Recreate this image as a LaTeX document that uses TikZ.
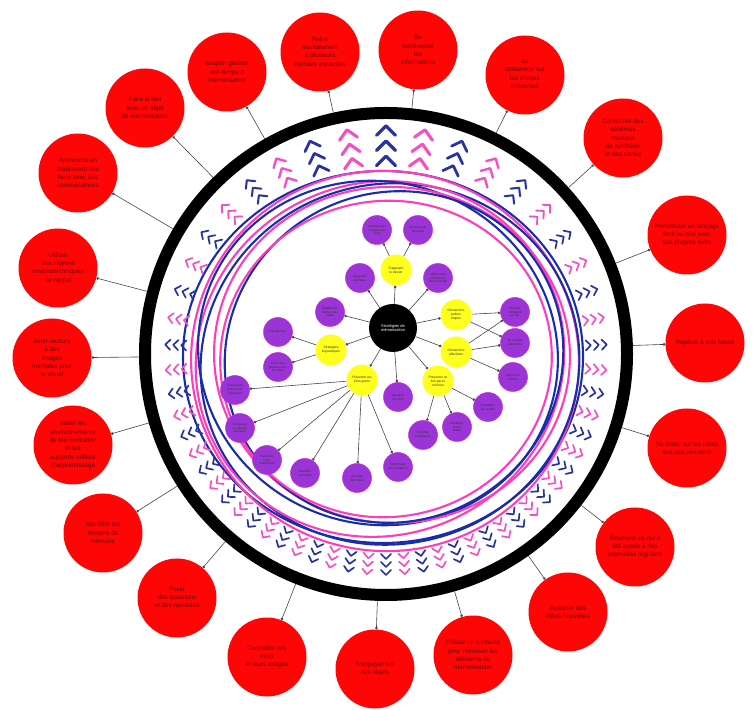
\documentclass[tikz,border=0pt]{standalone}
\usepackage{fontspec}
\setmainfont{Liberation Sans}
\usetikzlibrary{arrows.meta}
\definecolor{redbub}{RGB}{255,6,6}
\definecolor{redtext}{RGB}{110,5,5}
\definecolor{purp}{RGB}{155,52,214}
\definecolor{purpedge}{RGB}{200,40,210}
\definecolor{yell}{RGB}{255,255,30}
\definecolor{linkgray}{RGB}{70,70,70}
\definecolor{chevblue}{RGB}{40,50,160}
\definecolor{chevpink}{RGB}{245,80,195}
\definecolor{swirlblue}{RGB}{25,45,170}
\definecolor{swirlpink}{RGB}{255,60,185}
\begin{document}
\begin{tikzpicture}[
    x=1pt, y=1pt,
    bubble/.style={circle, fill=redbub, minimum size=79pt, inner sep=0pt, align=center, text=redtext, font=\fontsize{6.3}{8.3}\selectfont},
    idea/.style={circle, draw=purpedge, line width=0.5pt, fill=purp, minimum size=29pt, inner sep=0pt, align=center, text=black!80, font=\fontsize{3.1}{3.8}\selectfont},
    hub/.style={circle, fill=yell, minimum size=31pt, inner sep=0pt, align=center, text=black!80, font=\fontsize{3.3}{4}\selectfont},
    link/.style={draw=linkgray, line width=0.6pt, -{Circle[length=2.6pt]}},
    chev/.style={line cap=round, line join=round},
    swb/.style={draw=swirlblue, line width=2.1pt},
    swp/.style={draw=swirlpink, line width=2.1pt},
  ]
  \useasboundingbox (0,0) rectangle (754,709);
  \coordinate (O) at (386,355);

  % swirl of loops
  \draw[swb] (383,352) ellipse [x radius=200, y radius=186];
  \draw[swp, rotate around={-10:(385,348)}] (385,348) ellipse [x radius=194, y radius=190];
  \draw[swb, rotate around={15:(390,345)}] (390,345) ellipse [x radius=190, y radius=180];
  \draw[swp, rotate around={25:(380,350)}] (380,350) ellipse [x radius=186, y radius=176];
  \draw[swb, rotate around={-20:(378,356)}] (378,356) ellipse [x radius=181, y radius=171];
  \draw[swp, rotate around={-5:(392,354)}] (392,354) ellipse [x radius=178, y radius=168];
  \draw[swb, rotate around={30:(394,352)}] (394,352) ellipse [x radius=171, y radius=164];
  \draw[swp, rotate around={10:(386,350)}] (386,350) ellipse [x radius=166, y radius=158];

  % chevrons
  \foreach \k in {0,...,55}{
    \pgfmathsetmacro\t{\k*6.4286+90}
    \pgfmathsetmacro\a{\t+22*sin(\t-90)+4.4*sin(2*(\t-90))}
    \pgfmathsetmacro\q{max(0,sin(\a))}
    \pgfmathsetmacro\s{1+0.9*\q*\q*\q*\q*\q*\q}
    \pgfmathsetmacro\w{5*\s}
    \ifodd\k \def\col{chevpink}\else\def\col{chevblue}\fi
    \begin{scope}[shift={(O)}, rotate=\a-90]
      \foreach \d in {0,1,2}{
        \pgfmathsetmacro\tip{213+(\d-1)*8*\s}
        \pgfmathsetmacro\arm{\tip-\w}
        \draw[chev, draw=\col, line width={1.7pt*\s}]
          (-\w,\arm) -- (0,\tip) -- (\w,\arm);
      }
    \end{scope}
  }

  \node[circle, draw=black, line width=12pt, minimum size=482pt, inner sep=0pt] (ring) at (O) {};

  % outer ring of bubbles
  \node[bubble] (r1) at (145,601) {Faire le lien\\avec un objet\\de mémorisation};
  \node[bubble] (r2) at (227,637) {adapter gestion\\son temps à\\mémorisation};
  \node[bubble] (r3) at (320,657) {Relire\\mentalement\\à plusieurs\\reprises espacées};
  \node[bubble] (r4) at (418,659) {Se\\représenter\\les\\informations};
  \node[bubble] (r5) at (525,634) {se\\concentrer sur\\les choses\\présentes};
  \node[bubble] (r6) at (623,571) {Construire des\\schémas\\mentaux\\de synthèse\\et des cartes};
  \node[bubble] (r7) at (687,474) {Reformuler en langage\\écrit ou oral avec\\ses propres mots};
  \node[bubble] (r8) at (705,366) {Répéter à voix haute};
  \node[bubble] (r9) at (687,261) {Se tester sur les idées\\lors des révisions};
  \node[bubble] (r10) at (635,162) {Réactiver ce qui a\\été appris à des\\intervalles réguliers};
  \node[bubble] (r11) at (568,97) {Associer des\\idées nouvelles};
  \node[bubble] (r12) at (473,54) {Utiliser un contexte\\pour retrouver les\\éléments de\\mémorisation};
  \node[bubble] (r13) at (375,40) {S'appuyer sur\\des objets};
  \node[bubble] (r14) at (267,52) {Connaître des\\mots\\et leurs usages};
  \node[bubble] (r15) at (177,111) {Poser\\des questions\\et des réponses};
  \node[bubble] (r16) at (103,176) {Identifier les\\moyens de\\mémoire};
  \node[bubble] (r17) at (73,264) {Varier les\\environnements\\de mémorisation\\et les\\supports utilisés\\d'apprentissage};
  \node[bubble] (r18) at (52,351) {Avoir recours\\à des\\images\\mentales pour\\le visuel};
  \node[bubble] (r19) at (58,441) {Utiliser\\des moyens\\mnémotechniques\\de rappel};
  \node[bubble] (r20) at (78,536) {Apprendre en\\établissant des\\liens avec ses\\connaissances};
  \foreach \i in {1,...,20}
    \draw[link] (ring) -- (r\i);

  % inner map
  \node[circle, fill=black, text=white, minimum size=48pt, inner sep=0pt, align=center, font=\fontsize{4}{4.8}\selectfont] (root) at (393,381) {Stratégies de\\mémorisation};
  \node[hub] (y1) at (396,439) {S'appuyer\\le dessin};
  \node[hub] (y2) at (456,394) {Démarches\\petites\\étapes};
  \node[hub] (y3) at (456,357) {Démarches\\affectives};
  \node[hub] (y4) at (438,328) {Présenter un\\lien par le\\schéma};
  \node[hub] (y5) at (362,329) {Présenter les\\infos genre};
  \node[hub] (y6) at (331,359) {Stratégies\\linguistiques};

  \node[idea] (p1) at (377,479) {Associer des\\images aux\\mots};
  \node[idea] (p2) at (418,479) {Dessiner les\\concepts};
  \node[idea] (p3) at (360,431) {Organiser\\les idées};
  \node[idea] (p4) at (438,431) {Utiliser des\\couleurs et\\des schémas};
  \node[idea] (p5) at (330,397) {Répéter les\\mots à voix\\haute};
  \node[idea] (p6) at (278,377) {Paraphraser};
  \node[idea] (p7) at (278,342) {Créer des\\phrases avec\\les mots};
  \node[idea] (p8) at (235,319) {Classer les\\notions par\\catégories};
  \node[idea] (p9) at (240,281) {Comparer\\et opposer\\les idées};
  \node[idea] (p10) at (267,249) {Faire des\\listes\\ordonnées};
  \node[idea] (p11) at (305,236) {Résumer\\les textes};
  \node[idea] (p12) at (357,231) {Prendre\\des notes};
  \node[idea] (p13) at (398,242) {Reformuler\\les consignes};
  \node[idea] (p14) at (398,312) {Visualiser\\les infos};
  \node[idea] (p15) at (423,274) {Raconter\\à quelqu'un};
  \node[idea] (p16) at (457,282) {Expliquer\\à voix\\haute};
  \node[idea] (p17) at (488,302) {Enseigner\\aux autres};
  \node[idea] (p18) at (513,332) {Gérer son\\stress};
  \node[idea] (p19) at (515,366) {Se motiver\\par un but};
  \node[idea] (p20) at (515,397) {Prendre\\confiance\\en soi};

  \foreach \b in {y1,y2,y3,y4,y5,y6,p3,p4,p5,p14}
    \draw[link] (root) -- (\b);
  \draw[link] (y1) -- (p1);
  \draw[link] (y1) -- (p2);
  \draw[link] (y6) -- (p6);
  \draw[link] (y6) -- (p7);
  \foreach \b in {8,...,13}
    \draw[link] (y5) -- (p\b);
  \foreach \b in {15,16,17}
    \draw[link] (y4) -- (p\b);
  \draw[link] (y2) -- (p20);
  \draw[link] (y2) -- (p19);
  \draw[link] (y3) -- (p20);
  \draw[link] (y3) -- (p19);
  \draw[link] (y3) -- (p18);
\end{tikzpicture}
\end{document}
